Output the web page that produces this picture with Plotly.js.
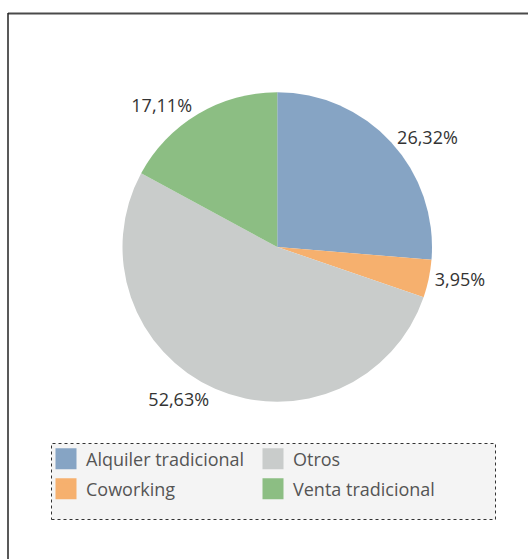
<!DOCTYPE html>
<html>
<head>
<meta charset="utf-8">
<script src="https://cdn.plot.ly/plotly-3.0.1.min.js"></script>
<style>
  html, body { margin: 0; padding: 0; background: #ffffff; }
  #chart { width: 528px; height: 559px; }
</style>
</head>
<body>
<div id="chart"></div>
<script>
// ---- data ----
var labels = ["Alquiler tradicional", "Coworking", "Otros", "Venta tradicional"];
var counts = [20, 3, 40, 13];
var colors = ["#86a4c4", "#f6b06e", "#c9cccb", "#8cbe83"];
// legend layout: row 1 and row 2 (column-wise reading order as in the reference)
var legendRow1 = ["Alquiler tradicional", "Otros"];
var legendRow2 = ["Coworking", "Venta tradicional"];

var FONT = "'Open Sans', 'Noto Sans', sans-serif";

var pie = {
  type: "pie",
  labels: labels,
  values: counts,
  sort: false,
  direction: "clockwise",
  rotation: 0,
  marker: { colors: colors, line: { width: 0 } },
  textposition: "outside",
  texttemplate: "%{percent:.2%}",
  outsidetextfont: { family: FONT, size: 18, color: "#333333" },
  domain: { x: [122.5 / 528, 432 / 528], y: [1 - 402 / 559, 1 - 92 / 559] },
  showlegend: false,
  hoverinfo: "label+percent"
};

function legendTrace(name, legendId) {
  var c = colors[labels.indexOf(name)];
  return {
    type: "scatter",
    mode: "markers",
    x: [null],
    y: [null],
    name: name,
    legend: legendId,
    showlegend: true,
    hoverinfo: "skip",
    marker: { symbol: "square", size: 16, color: c, line: { color: c, width: 5 } }
  };
}

var traces = [pie];
legendRow1.forEach(function (n) { traces.push(legendTrace(n, "legend")); });
legendRow2.forEach(function (n) { traces.push(legendTrace(n, "legend2")); });

var legendBase = {
  orientation: "h",
  entrywidth: 162,
  entrywidthmode: "pixels",
  xanchor: "left",
  yanchor: "middle",
  bgcolor: "rgba(0,0,0,0)",
  borderwidth: 0,
  font: { family: FONT, size: 18, color: "#555555" },
  itemclick: false,
  itemdoubleclick: false
};

var layout = {
  width: 528,
  height: 559,
  margin: { l: 0, r: 0, t: 0, b: 0 },
  paper_bgcolor: "#ffffff",
  plot_bgcolor: "#ffffff",
  separators: ",.",
  xaxis: { visible: false, range: [0, 1], fixedrange: true },
  yaxis: { visible: false, range: [0, 1], fixedrange: true },
  legend: Object.assign({}, legendBase, { x: 46 / 528, y: 1 - 459 / 559 }),
  legend2: Object.assign({}, legendBase, { x: 46 / 528, y: 1 - 489 / 559 }),
  shapes: [
    // outer frame (top and left edges)
    { type: "line", xref: "paper", yref: "paper", x0: 8 / 528, x1: 1, y0: 1 - 13.5 / 559, y1: 1 - 13.5 / 559,
      line: { color: "#4a4a4a", width: 2 } },
    { type: "line", xref: "paper", yref: "paper", x0: 8 / 528, x1: 8 / 528, y0: 0, y1: 1 - 13 / 559,
      line: { color: "#222222", width: 1.5 } },
    // legend box
    { type: "rect", xref: "paper", yref: "paper", x0: 51.5 / 528, x1: 495.5 / 528, y0: 1 - 519.5 / 559, y1: 1 - 443.5 / 559,
      fillcolor: "#f4f4f4", line: { color: "#333333", width: 1, dash: "dot" }, layer: "below" }
  ]
};

Plotly.newPlot("chart", traces, layout, { displayModeBar: false, staticPlot: false });
</script>
</body>
</html>
